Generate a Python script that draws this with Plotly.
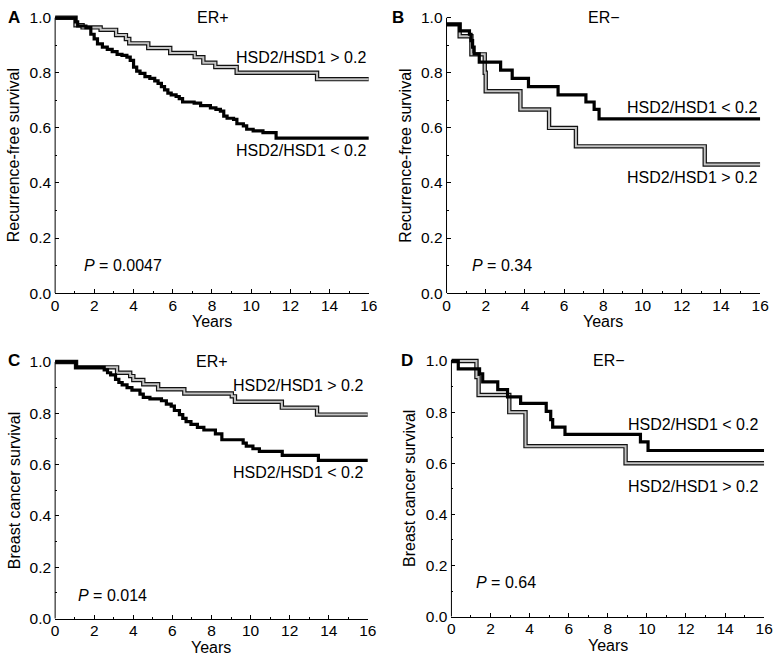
import plotly.graph_objects as go

# ---------------- data ----------------
A_low_t = [0, 1.04, 1.15, 1.57, 1.82, 1.99, 2.16, 2.41, 2.66, 2.91, 3.16, 3.41, 3.66, 3.83, 4.0, 4.16,
           4.33, 4.58, 4.83, 5.08, 5.25, 5.42, 5.58, 5.75, 5.92, 6.17, 6.33, 6.5, 7.09, 7.42, 7.92, 8.2,
           8.43, 8.6, 8.77, 9.1, 9.27, 9.6, 9.77, 10.1, 10.6, 11.27, 16]
A_low_s = [1.0, 0.985, 0.970, 0.964, 0.940, 0.923, 0.905, 0.893, 0.885, 0.877, 0.867, 0.863, 0.857, 0.845,
           0.821, 0.806, 0.798, 0.786, 0.780, 0.771, 0.762, 0.750, 0.738, 0.726, 0.720, 0.714, 0.706, 0.694,
           0.690, 0.681, 0.673, 0.667, 0.661, 0.643, 0.635, 0.631, 0.615, 0.607, 0.595, 0.589, 0.583, 0.563, 0.563]
A_high_t = [0, 1.04, 1.4, 2.32, 3.11, 3.61, 3.78, 4.75, 5.87, 7.12, 7.56, 8.17, 9.26, 13.36, 16]
A_high_s = [1.0, 0.973, 0.965, 0.956, 0.937, 0.923, 0.907, 0.89, 0.872, 0.857, 0.837, 0.821, 0.80, 0.777, 0.777]

B_low_t = [0, 0.67, 1.17, 1.25, 1.33, 1.41, 1.67, 2.76, 3.35, 4.18, 5.69, 7.11, 7.53, 7.78, 16]
B_low_s = [0.976, 0.952, 0.94, 0.917, 0.893, 0.869, 0.839, 0.81, 0.78, 0.75, 0.72, 0.694, 0.667, 0.633, 0.633]
B_high_t = [0, 0.67, 1.27, 1.95, 2.0, 3.77, 5.23, 6.6, 13.17, 16]
B_high_s = [0.976, 0.933, 0.867, 0.80, 0.733, 0.667, 0.60, 0.533, 0.467, 0.467]

C_low_t = [0, 1.07, 2.51, 2.68, 2.84, 3.09, 3.26, 3.43, 3.68, 3.93, 4.34, 4.51, 4.85, 5.44, 5.69, 5.94,
           6.1, 6.36, 6.53, 6.7, 6.95, 7.28, 7.61, 8.2, 8.53, 9.62, 9.78, 10.12, 10.45, 11.62, 13.47, 16]
C_low_s = [1.0, 0.979, 0.969, 0.958, 0.950, 0.932, 0.92, 0.911, 0.90, 0.89, 0.875, 0.862, 0.856, 0.849,
           0.836, 0.828, 0.811, 0.795, 0.78, 0.768, 0.757, 0.745, 0.735, 0.72, 0.697, 0.684, 0.672, 0.662,
           0.652, 0.636, 0.617, 0.617]
C_high_t = [0, 1.07, 3.17, 3.84, 4.0, 4.51, 5.27, 6.61, 9.04, 9.2, 11.6, 13.4, 16]
C_high_s = [1.0, 0.979, 0.958, 0.945, 0.930, 0.913, 0.894, 0.877, 0.866, 0.845, 0.822, 0.795, 0.795]

D_low_t = [0, 0.35, 1.44, 1.6, 2.37, 2.87, 3.54, 4.85, 5.08, 5.18, 5.81, 9.67, 10.06, 16]
D_low_s = [1.0, 0.969, 0.95, 0.918, 0.888, 0.86, 0.834, 0.803, 0.771, 0.741, 0.713, 0.684, 0.65, 0.65]
D_high_t = [0, 1.28, 1.39, 2.96, 3.79, 8.91, 16]
D_high_s = [1.0, 0.937, 0.867, 0.80, 0.667, 0.60, 0.60]

x_ticks = [0, 2, 4, 6, 8, 10, 12, 14, 16]
y_ticks = [0.0, 0.2, 0.4, 0.6, 0.8, 1.0]
y_tick_text = ["0.0", "0.2", "0.4", "0.6", "0.8", "1.0"]

# ---------------- layout helpers ----------------
W, H = 782, 666
FONT = "Liberation Sans, Arial, Helvetica, sans-serif"
YTOP = 1.02


def px(x):
    return x / W


def py(y):
    return 1 - y / H


panels = [
    dict(letter="A", n="", box=(52, 371, 15, 295), low=(A_low_t, A_low_s), high=(A_high_t, A_high_s),
         ylab="Recurrence-free survival", er="ER+", p="0.0047",
         hi_lab=(370, 55), lo_lab=(370, 150), p_pos=(79, 267), letter_pos=(2, 15)),
    dict(letter="B", n="2", box=(450, 769, 15, 295), low=(B_low_t, B_low_s), high=(B_high_t, B_high_s),
         ylab="Recurrence-free survival", er="ER\u2212", p="0.34",
         hi_lab=(768, 177), lo_lab=(768, 106), p_pos=(474, 267), letter_pos=(393, 15)),
    dict(letter="C", n="3", box=(52, 370, 365, 626), low=(C_low_t, C_low_s), high=(C_high_t, C_high_s),
         ylab="Breast cancer survival", er="ER+", p="0.014",
         hi_lab=(367, 389), lo_lab=(367, 477), p_pos=(73, 602), letter_pos=(2, 364)),
    dict(letter="D", n="4", box=(455, 773, 364, 624), low=(D_low_t, D_low_s), high=(D_high_t, D_high_s),
         ylab="Breast cancer survival", er="ER\u2212", p="0.64",
         hi_lab=(769, 492), lo_lab=(769, 429), p_pos=(478, 589), letter_pos=(402, 364)),
]

fig = go.Figure()
annotations = []
shapes = []
layout_axes = {}

for pn in panels:
    xname = "x" + pn["n"]
    yname = "y" + pn["n"]
    x0, x1, ytop, ybot = pn["box"]
    dom_top = ybot - YTOP * (ybot - ytop)

    # hollow (double) line for HSD2/HSD1 > 0.2
    ht, hs = pn["high"]
    fig.add_trace(go.Scatter(x=ht, y=hs, mode="lines", line=dict(shape="hv", color="#111111", width=4.4),
                             xaxis=xname, yaxis=yname, showlegend=False, hoverinfo="skip"))
    fig.add_trace(go.Scatter(x=ht, y=hs, mode="lines", line=dict(shape="hv", color="#c4c4c4", width=2.0),
                             xaxis=xname, yaxis=yname, showlegend=False, hoverinfo="skip"))
    # thick black line for HSD2/HSD1 < 0.2
    lt, ls = pn["low"]
    fig.add_trace(go.Scatter(x=lt, y=ls, mode="lines", line=dict(shape="hv", color="black", width=3.2),
                             xaxis=xname, yaxis=yname, showlegend=False, hoverinfo="skip"))

    xa_key = "xaxis" + pn["n"]
    ya_key = "yaxis" + pn["n"]
    layout_axes[xa_key] = dict(
        domain=[px(x0), px(x1)], anchor=yname, range=[0, 16], showline=True, linecolor="black",
        linewidth=1, ticks="inside", ticklen=4, tickcolor="black", tickvals=x_ticks,
        minor=dict(ticks="inside", dtick=1, ticklen=2, tickcolor="black"), ticklabelstandoff=-2,
        showgrid=False, zeroline=False, tickfont=dict(size=15.5, color="black", family=FONT))
    layout_axes[ya_key] = dict(
        domain=[py(ybot), py(dom_top)], anchor=xname, range=[0, YTOP], showline=False,
        ticks="inside", ticklen=4, tickcolor="black", tickvals=y_ticks, ticktext=y_tick_text,
        minor=dict(ticks="inside", dtick=0.1, ticklen=2, tickcolor="black"), ticklabelstandoff=3,
        showgrid=False, zeroline=False, tickfont=dict(size=15.5, color="black", family=FONT))

    # left axis line from 0 to 1.0
    shapes.append(dict(type="line", xref=xname + " domain", yref=yname, x0=0, x1=0, y0=0, y1=1,
                       line=dict(color="black", width=1)))

    base = dict(showarrow=False, xref="paper", yref="paper", font=dict(size=16, color="black", family=FONT))
    annotations.append(dict(base, text="<b>%s</b>" % pn["letter"], x=px(pn["letter_pos"][0]),
                            y=py(pn["letter_pos"][1]), xanchor="left", yanchor="middle",
                            font=dict(size=17, color="black", family=FONT)))
    annotations.append(dict(base, text=pn["er"], x=px((x0 + x1) / 2 + 1), y=py(ytop), xanchor="center",
                            yanchor="middle"))
    annotations.append(dict(base, text="HSD2/HSD1 > 0.2", x=px(pn["hi_lab"][0]), y=py(pn["hi_lab"][1]),
                            xanchor="right", yanchor="middle"))
    annotations.append(dict(base, text="HSD2/HSD1 < 0.2", x=px(pn["lo_lab"][0]), y=py(pn["lo_lab"][1]),
                            xanchor="right", yanchor="middle"))
    annotations.append(dict(base, text="<i>P</i> = " + pn["p"], x=px(pn["p_pos"][0]), y=py(pn["p_pos"][1]),
                            xanchor="left", yanchor="middle"))
    annotations.append(dict(base, text="Years", x=px((x0 + x1) / 2), y=py(ybot + 29), xanchor="center",
                            yanchor="middle"))
    annotations.append(dict(base, text=pn["ylab"], x=px(x0 - 42), y=py((ytop + ybot) / 2), xanchor="center",
                            yanchor="middle", textangle=-90))

fig.update_layout(
    width=W, height=H, margin=dict(l=0, r=0, t=0, b=0),
    paper_bgcolor="white", plot_bgcolor="white",
    font=dict(family=FONT, size=16, color="black"),
    annotations=annotations, shapes=shapes, showlegend=False,
    **layout_axes,
)

# remove the browser's default 8px body margin so the figure sits at the page origin
fig.write_html("out.html", config={"displayModeBar": False},
               post_script="document.body.style.margin='0px';")
